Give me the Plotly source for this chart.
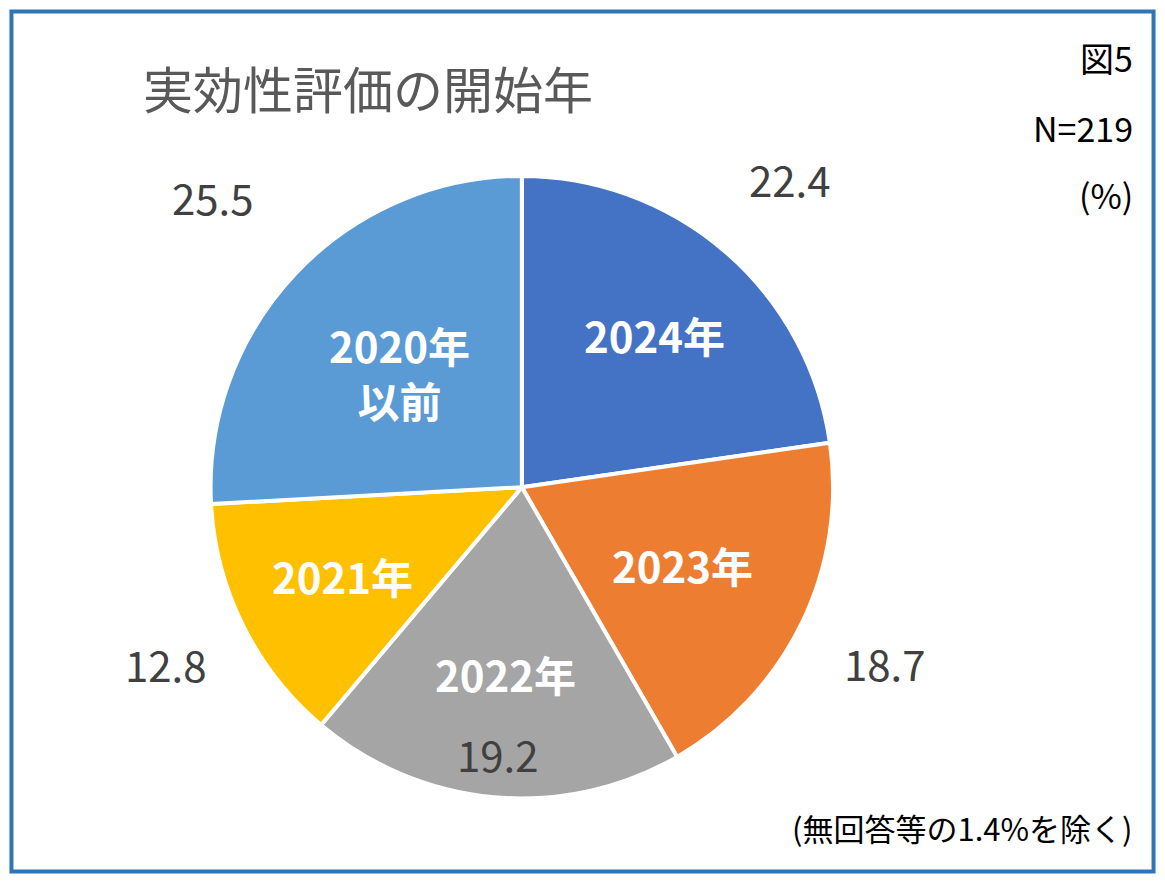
import math
import plotly.graph_objects as go

labels = ["2024年", "2023年", "2022年", "2021年", "2020年<br>以前"]
values = [22.4, 18.7, 19.2, 12.8, 25.5]
colors = ["#4472C4", "#ED7D31", "#A5A5A5", "#FFC000", "#5B9BD5"]
# distance of each value label / category label from the centre, in pie radii
label_dist = [1.31, 1.29, 0.86, 1.27, 1.36]
name_dist = [0.65, 0.57, 0.60, 0.64, 0.54]

W, H = 1165, 883
cx, cy, r = 521, 488, 317
FONT = "Noto Sans CJK JP"

fig = go.Figure(go.Pie(
    labels=labels, values=values, sort=False, direction="clockwise", rotation=0,
    marker=dict(colors=colors, line=dict(color="white", width=4)),
    textinfo="none",
    domain=dict(x=[(cx - r) / W, (cx + r) / W], y=[1 - (cy + r) / H, 1 - (cy - r) / H]),
    showlegend=False, hoverinfo="label+value",
))


def note(x, y, text, size, color, xanchor="center", bold=False):
    fig.add_annotation(x=x / W, y=1 - y / H, xref="paper", yref="paper",
                       xanchor=xanchor, yanchor="middle", showarrow=False,
                       text=f"<b>{text}</b>" if bold else text,
                       font=dict(size=size, color=color, family=FONT))


total = sum(values)
cum = 0
for lab, v, d, nd in zip(labels, values, label_dist, name_dist):
    ang = math.radians((cum + v / 2) / total * 360)
    cum += v
    note(cx + d * r * math.sin(ang), cy - d * r * math.cos(ang), f"{v:.1f}", 42, "#404040")
    note(cx + nd * r * math.sin(ang), cy - nd * r * math.cos(ang), lab, 42, "white", bold=True)

note(135, 80, "実効性評価の開始年", 50, "#595959", xanchor="left")
for txt, y in [("図5", 50), ("N=219", 122), ("(%)", 190)]:
    note(1143, y, txt, 34, "black", xanchor="right")
note(1143, 835, "(無回答等の1.4%を除く)", 31, "black", xanchor="right")

fig.add_shape(type="rect", xref="paper", yref="paper", x0=0.003, y0=0.004, x1=0.997, y1=0.996,
              line=dict(color="#2E75B6", width=4))

fig.update_layout(width=W - 16, height=H - 16, margin=dict(l=0, r=0, t=0, b=0),
                  paper_bgcolor="white", plot_bgcolor="white")
fig.write_html("out.html")
